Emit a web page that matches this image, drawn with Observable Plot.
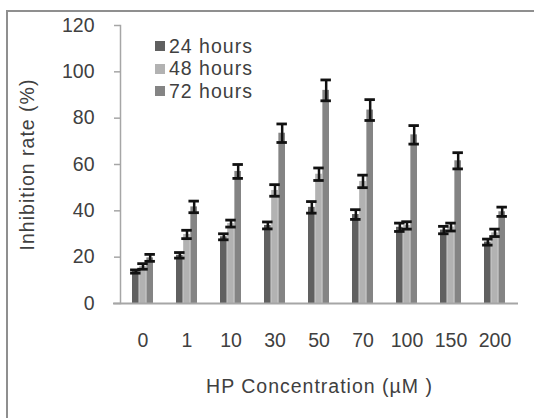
<!DOCTYPE html>
<html>
<head>
<meta charset="utf-8">
<script src="https://cdn.jsdelivr.net/npm/d3@7"></script>
<script src="https://cdn.jsdelivr.net/npm/@observablehq/plot@0.6"></script>
<style>
  html, body { margin: 0; padding: 0; background: #fff; overflow: hidden; }
  #wrap { position: relative; width: 534px; height: 418px; overflow: hidden; font-family: "Liberation Sans", Arial, sans-serif; }
  #border { position: absolute; left: 6px; top: 10px; width: 600px; height: 500px; border-top: 2px solid #8f8f8f; border-left: 2px solid #8f8f8f; pointer-events: none; }
  #legend { position: absolute; left: 155px; top: 35px; font-size: 19.5px; color: #404040; letter-spacing: 1px; }
  .row { height: 22.5px; display: flex; align-items: center; }
  .sw { width: 10px; height: 10px; margin-right: 4px; }
</style>
</head>
<body>
<div id="wrap"><div id="border"></div></div>
<script>
const categories = ["0", "1", "10", "30", "50", "70", "100", "150", "200"];
const seriesNames = ["24 hours", "48 hours", "72 hours"];
const colors = ["#606060", "#b2b2b2", "#848484"];
const h24 = [13.8, 20.8, 28.8, 33.7, 41.5, 38.4, 32.9, 31.7, 26.5];
const h24err = [0.7, 1.2, 1.3, 1.5, 2.5, 2.1, 1.8, 1.6, 1.3];
const h48 = [16.0, 29.8, 34.5, 48.8, 55.8, 52.7, 33.7, 33.0, 30.5];
const h48err = [1.2, 1.8, 1.5, 2.5, 2.7, 2.7, 1.6, 1.7, 1.6];
const h72 = [19.7, 41.7, 57.0, 73.5, 92.0, 83.5, 72.8, 61.6, 39.6];
const h72err = [1.5, 2.5, 3.0, 4.0, 4.5, 4.5, 4.0, 3.5, 2.0];
const yTicks = [0, 20, 40, 60, 80, 100, 120];
const xTitle = "HP Concentration (µM )";
const yTitle = "Inhibition rate (%)";

const values = [h24, h48, h72];
const errors = [h24err, h48err, h72err];

const W = 534, H = 418, mL = 120, mR = 16, mT = 25, mB = 115;
const pInner = 0.513;
const step = (W - mL - mR) / categories.length;
const bw = step * (1 - pInner);
const third = bw / 3;
const capW = 11;

const marks = [];
values.forEach((vals, s) => {
  const rows = categories.map((c, i) => ({cat: c, v: vals[i]}));
  marks.push(Plot.barY(rows, {x: "cat", y: "v", fill: colors[s], insetLeft: third * s, insetRight: third * (2 - s)}));
});
values.forEach((vals, s) => {
  const rows = categories.map((c, i) => ({cat: c, lo: vals[i] - errors[s][i], hi: vals[i] + errors[s][i]}));
  const dx = third * (s - 1);
  const capInset = (bw - capW) / 2;
  marks.push(Plot.ruleX(rows, {x: "cat", y1: "lo", y2: "hi", dx, stroke: "#111", strokeWidth: 2.5}));
  marks.push(Plot.tickY(rows, {x: "cat", y: "hi", dx, stroke: "#111", strokeWidth: 2.8, insetLeft: capInset, insetRight: capInset}));
  marks.push(Plot.tickY(rows, {x: "cat", y: "lo", dx, stroke: "#111", strokeWidth: 2.8, insetLeft: capInset, insetRight: capInset}));
});

const chart = Plot.plot({
  width: W, height: H,
  marginLeft: mL, marginRight: mR, marginTop: mT, marginBottom: mB,
  x: {domain: categories, paddingInner: pInner, paddingOuter: pInner / 2, axis: null},
  y: {domain: [0, 120], axis: null},
  style: {fontFamily: "'Liberation Sans', Arial, sans-serif", fontSize: "19.5px", color: "#404040", background: "transparent", overflow: "visible"},
  marks: [
    Plot.axisY({ticks: yTicks, tickSize: 6, tickPadding: 20, stroke: "#a6a6a6", strokeWidth: 1.5, fill: "#404040", label: null, fontSize: 19.5}),
    Plot.axisX({tickSize: 0, tickPadding: 30, label: null, fill: "#404040", fontSize: 19.5}),
    ...marks,
    Plot.ruleY([0], {stroke: "#a6a6a6", strokeWidth: 2, insetLeft: -7}),
    Plot.frame({anchor: "left", stroke: "#a6a6a6", strokeWidth: 1.5}),
    Plot.text([yTitle], {frameAnchor: "left", dx: -93, rotate: -90, text: d => d, fontSize: 19.5, fill: "#404040", textAnchor: "middle", lineAnchor: "middle"}),
    Plot.text([xTitle], {frameAnchor: "bottom", dy: 83.5, text: d => d, fontSize: 19.5, fill: "#404040", textAnchor: "middle", lineAnchor: "middle"})
  ]
});
chart.style.position = "absolute";
chart.style.left = "0px";
chart.style.top = "0px";
const wrap = document.getElementById("wrap");
wrap.insertBefore(chart, wrap.firstChild);

const legend = document.createElement("div");
legend.id = "legend";
seriesNames.forEach((n, i) => {
  const row = document.createElement("div");
  row.className = "row";
  const sw = document.createElement("div");
  sw.className = "sw";
  sw.style.background = colors[i];
  const t = document.createElement("span");
  t.textContent = n;
  row.appendChild(sw);
  row.appendChild(t);
  legend.appendChild(row);
});
wrap.appendChild(legend);
chart.querySelectorAll("text").forEach(t => {
  if (t.textContent === xTitle || t.textContent === yTitle) t.setAttribute("letter-spacing", "1");
});
</script>
</body>
</html>
